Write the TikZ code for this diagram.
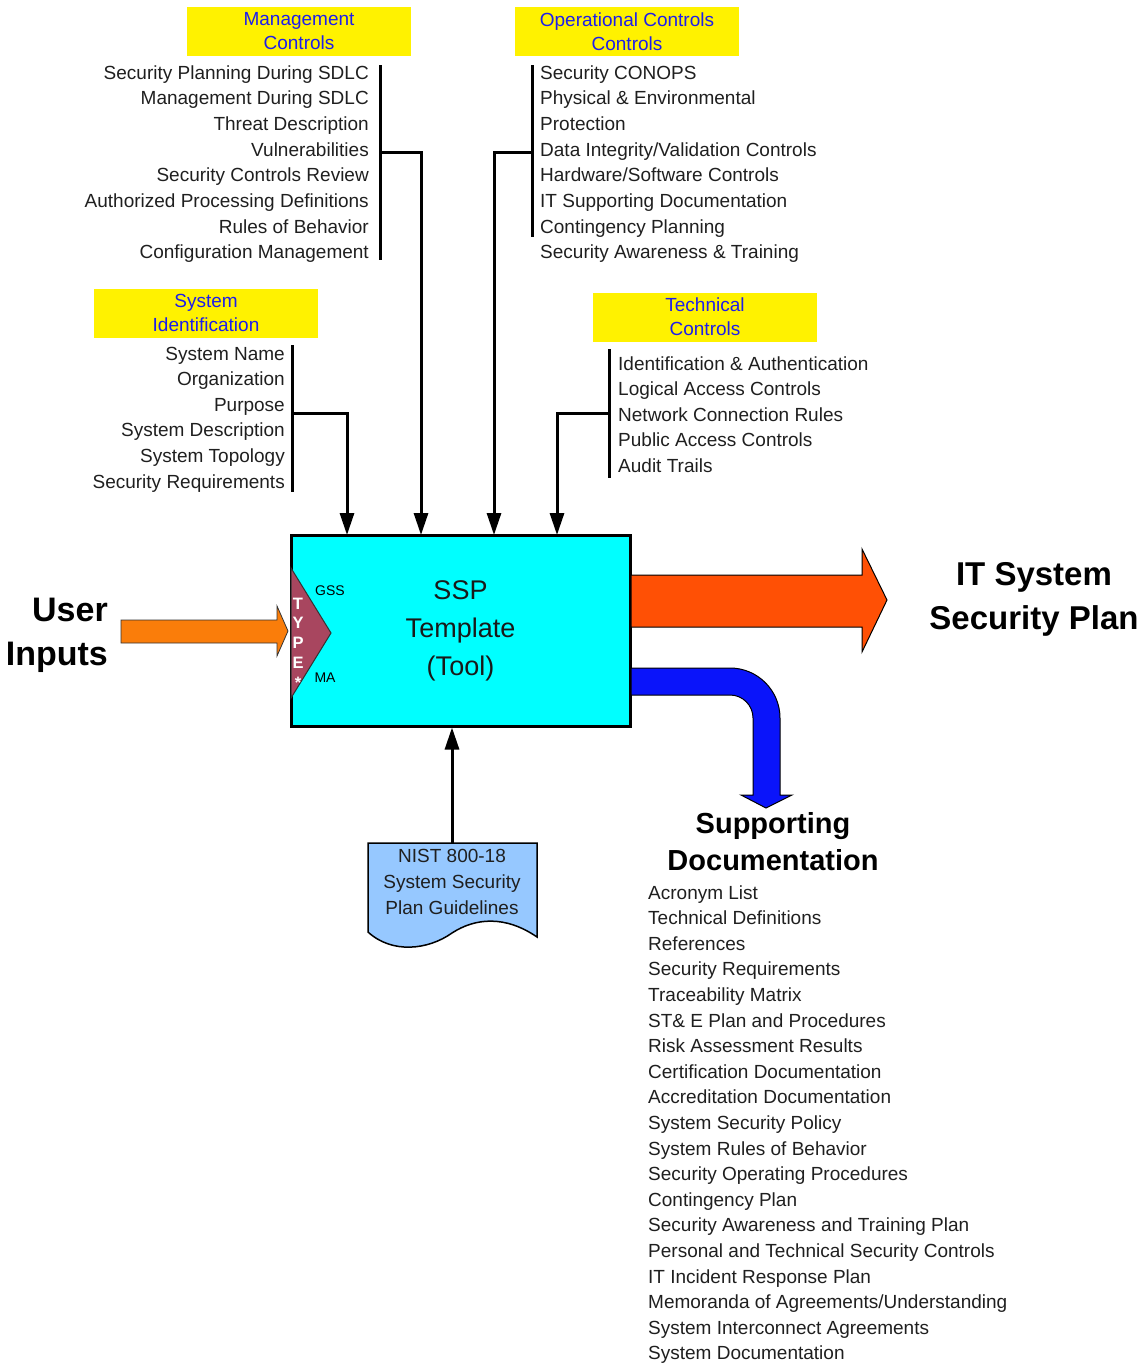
\documentclass[tikz,border=0pt]{standalone}
\usepackage{fontspec}
\setmainfont{Liberation Sans}
\usetikzlibrary{arrows.meta,calc}
\definecolor{userorange}{RGB}{250,125,10}
\definecolor{outred}{RGB}{255,80,5}
\definecolor{outblue}{RGB}{10,20,250}
\definecolor{typemaroon}{RGB}{168,70,95}
\definecolor{docblue}{RGB}{150,200,255}
\definecolor{sspcyan}{RGB}{0,255,255}
\definecolor{labelblue}{RGB}{30,30,235}
\begin{document}
\begin{tikzpicture}[x=1pt,y=-1pt,
  item/.style={font=\fontsize{19}{23}\selectfont, inner sep=0pt, text=black!88},
  ybox/.style={fill=yellow, minimum width=224pt, minimum height=49pt, inner sep=0pt,
               align=center, text=labelblue, font=\fontsize{19}{24}\selectfont},
  brk/.style={line width=3pt},
  conn/.style={line width=3pt, -{Triangle[length=22pt,width=14pt]}},
  bigtitle/.style={font=\bfseries\fontsize{33}{44}\selectfont, align=center, inner sep=0pt}
]
\useasboundingbox (0,0) rectangle (1144,1363);

% ---------- yellow header boxes ----------
\node[ybox] (mghead) at (299,31.5) {Management\\Controls};
\node[ybox] (ophead) at (627,31.5) {Operational Controls\\Controls};
\node[ybox] (syhead) at (206,313) {System\\Identification};
\node[ybox] (tchead) at (705,317) {Technical\\Controls};

% ---------- lists ----------
\foreach \t [count=\i] in {Security Planning During SDLC, Management During SDLC,
  Threat Description, Vulnerabilities, Security Controls Review,
  Authorized Processing Definitions, Rules of Behavior, Configuration Management}
  \node[item, anchor=base east] (mg\i) at (369,{79+25.7*(\i-1)}) {\t};

\foreach \t [count=\i] in {Security CONOPS, Physical \& Environmental, Protection,
  Data Integrity/Validation Controls, Hardware/Software Controls,
  IT Supporting Documentation, Contingency Planning, Security Awareness \& Training}
  \node[item, anchor=base west] (op\i) at (540,{79+25.7*(\i-1)}) {\t};

\foreach \t [count=\i] in {System Name, Organization, Purpose, System Description,
  System Topology, Security Requirements}
  \node[item, anchor=base east] (sy\i) at (285,{360+25.6*(\i-1)}) {\t};

\foreach \t [count=\i] in {Identification \& Authentication, Logical Access Controls,
  Network Connection Rules, Public Access Controls, Audit Trails}
  \node[item, anchor=base west] (tc\i) at (618,{370+25.5*(\i-1)}) {\t};

\foreach \t [count=\i] in {Acronym List, Technical Definitions, References,
  Security Requirements, Traceability Matrix, ST\& E Plan and Procedures,
  Risk Assessment Results, Certification Documentation, Accreditation Documentation,
  System Security Policy, System Rules of Behavior, Security Operating Procedures,
  Contingency Plan, Security Awareness and Training Plan,
  Personal and Technical Security Controls, IT Incident Response Plan,
  Memoranda of Agreements/Understanding, System Interconnect Agreements,
  System Documentation}
  \node[item, anchor=base west] (sd\i) at (648,{899+25.6*(\i-1)}) {\t};

% ---------- main box ----------
\node[draw, line width=3pt, fill=sspcyan, minimum width=339pt, minimum height=191pt,
      inner sep=0pt, align=center, text=black!90,
      font=\fontsize{27}{38}\selectfont] (ssp) at (460.5,630.5) {SSP\\Template\\(Tool)};

% type triangle
\filldraw[fill=typemaroon, draw=black!80, line width=1pt]
  (291,568) -- (331,633) -- (291,698) -- cycle;
\node[font=\bfseries\fontsize{16.5}{19.7}\selectfont, text=white, align=center, inner sep=0pt]
  (type) at (298,643) {T\\Y\\P\\E\\*};
\node[font=\fontsize{14}{15}\selectfont, inner sep=0pt] (gss) at (330,591) {GSS};
\node[font=\fontsize{14}{15}\selectfont, inner sep=0pt] (ma) at (325,678) {MA};

% ---------- brackets and connectors ----------
\draw[brk] (380,65) -- (380,260);
\draw[brk] (532,65) -- (532,237);
\draw[brk] (292,345) -- (292,492);
\draw[brk] (609,349) -- (609,478);

\coordinate (mgj) at (380,152);
\coordinate (opj) at (532,152);
\coordinate (syj) at (292,413);
\coordinate (tcj) at (609,413);
\coordinate (mgt) at (421,535);
\coordinate (opt) at (494,535);
\coordinate (syt) at (347,535);
\coordinate (tct) at (557,535);

\draw[conn] (mgj) -| (mgt);
\draw[conn] (opj) -| (opt);
\draw[conn] (syj) -| (syt);
\draw[conn] (tcj) -| (tct);

% ---------- user inputs ----------
\node[font=\bfseries\fontsize{34}{44}\selectfont, align=right, anchor=east, inner sep=0pt]
  (user) at (108,635) {User\\Inputs};
\filldraw[fill=userorange, draw=black!80, line width=0.8pt]
  (121,620) -- (277,620) -- (277,606) -- (288,631) -- (277,656) -- (277,643)
  -- (121,643) -- cycle;

% ---------- output arrows ----------
\filldraw[fill=outred, draw=black, line width=1pt]
  (631,575) -- (862,575) -- (862,549) -- (887,600) -- (862,652) -- (862,627)
  -- (631,627) -- cycle;
\node[bigtitle] (itssp) at (1034,599) {IT System\\Security Plan};

\filldraw[fill=outblue, draw=black, line width=1pt]
  (631,668) -- (730,668) .. controls (757.6,668) and (780,690.4) .. (780,718)
  -- (780,795) -- (792,795) -- (766,808) -- (741,795) -- (753,795) -- (753,718)
  .. controls (753,705.3) and (742.7,695) .. (730,695) -- (631,695) -- cycle;
\node[font=\bfseries\fontsize{29}{37}\selectfont, align=center, inner sep=0pt]
  (supp) at (773,841.5) {Supporting\\Documentation};

% ---------- NIST document ----------
\filldraw[fill=docblue, draw=black, line width=1.5pt]
  (368,843) -- (537,843) -- (537,937) .. controls (505,915) and (475,918) .. (452,933)
  .. controls (428,950) and (392,954) .. (368,932) -- cycle;
\coordinate (nist) at (452,843);
\node[item, align=center, font=\fontsize{19}{26}\selectfont] (nisttxt) at (452,882)
  {NIST 800-18\\System Security\\Plan Guidelines};
\draw[conn] (nist) -- (nist |- ssp.south);

\end{tikzpicture}
\end{document}
